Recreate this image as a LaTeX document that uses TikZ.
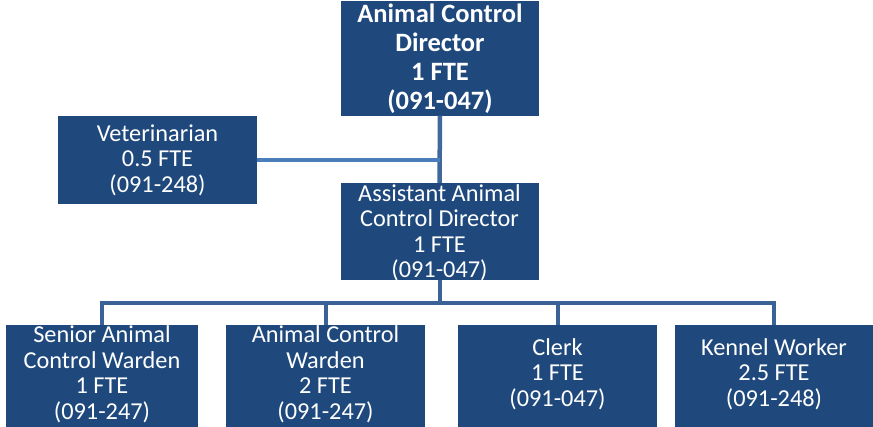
\documentclass[tikz,border=0pt]{standalone}
\usepackage{fontspec}
\setmainfont{Carlito}
\usepackage{tikz}
\definecolor{boxblue}{RGB}{31,73,125}
\definecolor{trunkblue}{RGB}{64,104,156}
\definecolor{vetblue}{RGB}{74,126,187}
\definecolor{busblue}{RGB}{58,98,150}
\tikzset{
    every node/.style={rectangle, fill=boxblue, draw=none, inner sep=0pt,
    	text=white, align=center, font=\fontsize{24.3}{25.6}\selectfont}
}
\tikzset{
    head/.style={minimum width=198pt, minimum height=115pt, text depth=2pt,
    	font=\bfseries\fontsize{26.5}{29}\selectfont},
    mid/.style={minimum width=198pt, minimum height=97pt, text depth=1pt},
    vet/.style={minimum width=199pt, minimum height=88pt},
    low/.style={minimum width=199pt, minimum height=120pt, text depth=25pt}
}
\tikzset{
    link/.style={line width=4.5pt, draw=trunkblue},
    vetlink/.style={line width=3.5pt, draw=vetblue},
    buslink/.style={line width=4pt, draw=busblue}
}

\begin{document}
\begin{tikzpicture}[x=1pt, y=-1pt]
	\useasboundingbox (0,0) rectangle (873,426);
	\clip (0,0) rectangle (873,426);
	\node [head] (dir) at (440,58) {Animal Control\\Director\\1 FTE\\(091-047)};
	\node [vet] (vet) at (157.5,160) {Veterinarian\\0.5 FTE\\(091-248)};
	\node [mid] (asst) at (439.5,231.5) {Assistant Animal\\Control Director\\1 FTE\\(091-047)};
	\node [low, minimum width=192pt] (senior) at (102,385) {Senior Animal\\Control Warden\\1 FTE\\(091-247)};
	\node [low] (warden) at (325.5,385) {Animal Control\\Warden\\2 FTE\\(091-247)};
	\node [low] (clerk) at (557.5,385) {Clerk\\1 FTE\\(091-047)};
	\node [low, minimum width=198pt] (kennel) at (774,385) {Kennel Worker\\2.5 FTE\\(091-248)};
	\draw [link] (dir.south) -- (asst.north);
	\draw [vetlink] (vet.east) -- (vet.east -| dir.south);
	\draw [buslink] (asst.south) -- ++(0,22.5) -| (senior.north);
	\draw [buslink] (asst.south) -- ++(0,22.5) -| (warden.north);
	\draw [buslink] (asst.south) -- ++(0,22.5) -| (clerk.north);
	\draw [buslink] (asst.south) -- ++(0,22.5) -| (kennel.north);
\end{tikzpicture}
\end{document}
